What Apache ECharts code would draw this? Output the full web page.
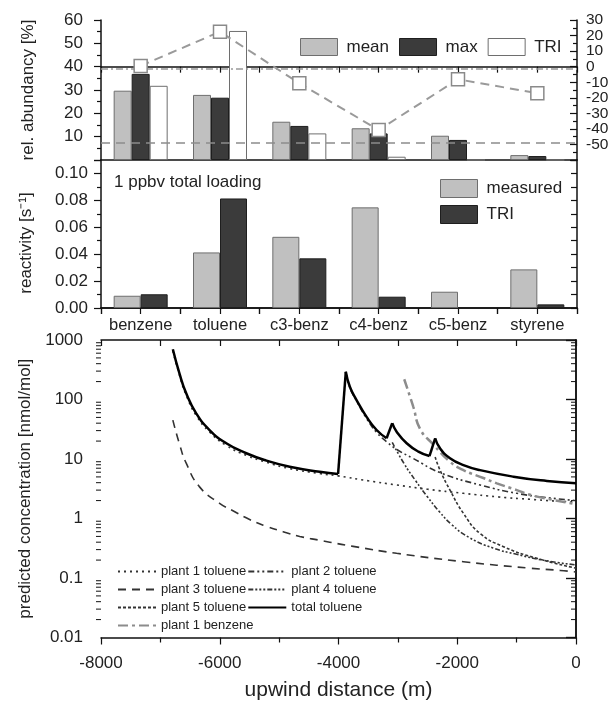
<!DOCTYPE html>
<html><head><meta charset="utf-8">
<script src="https://cdn.jsdelivr.net/npm/echarts@6/dist/echarts.min.js"></script>
<style>html,body{margin:0;padding:0;background:#fff}#c{width:613px;height:706px}</style>
</head><body><div id="c"></div>
<script>
// ---------- data ----------
const categories = ['benzene', 'toluene', 'c3-benz', 'c4-benz', 'c5-benz', 'styrene'];
const abundMean = [29.7, 27.9, 16.4, 13.6, 10.4, 2.1];
const abundMax  = [36.9, 26.7, 14.6, 11.4, 8.6, 1.7];
const abundTRI  = [31.8, 55.3, 11.4, 1.4, 0, 0];
const diffTRI   = [0.5, 22.5, -10.7, -40.7, -8.1, -17.1];
const refLineRight = -1.5;
const refLineLeft = 7.2;
const reactMeasured = [0.0091, 0.0413, 0.0529, 0.0748, 0.0121, 0.0287];
const reactTRI      = [0.0102, 0.0814, 0.0369, 0.0084, 0, 0.0027];

const plant1Toluene = [[-6790,653],[-6679,257],[-6565,118],[-6397,54],[-6172,28.4],[-5890,16.9],[-5553,11.5],[-5215,8.8],[-4822,6.9],[-4316,5.7],[-4007,5.2],[-3500,4.3],[-3021,3.66],[-2500,3.1],[-1896,2.65],[-1300,2.3],[-771,2.1],[-400,1.98],[0,1.9]];
const plant2Toluene = [[-3877,290],[-3809,160],[-3696,95],[-3527,48],[-3358,28],[-3190,19.5],[-3021,14.5],[-2741,10.2],[-2290,5.9],[-1616,3.66],[-998,2.65],[-500,2.25],[0,2.0]];
const plant3Toluene = [[-6790,45],[-6679,18],[-6565,8.5],[-6340,3.4],[-6003,1.8],[-5778,1.35],[-5497,0.96],[-5215,0.74],[-4934,0.6],[-4653,0.5],[-4316,0.43],[-4148,0.4],[-3754,0.34],[-3021,0.26],[-1896,0.188],[-771,0.146],[-265,0.134],[0,0.126]];
const plant4Toluene = [[-3095,19],[-2900,8.5],[-2700,4.3],[-2500,2.3],[-2300,1.3],[-2100,0.8],[-1800,0.48],[-1400,0.32],[-1000,0.25],[-500,0.195],[0,0.166]];
const plant5Toluene = [[-2372,10.8],[-2290,6.5],[-2122,3.0],[-1896,1.22],[-1616,0.56],[-1222,0.336],[-659,0.214],[0,0.146]];
const totalToluene  = [[-6790,698],[-6679,275],[-6565,127],[-6397,58.6],[-6172,30.7],[-5890,18.4],[-5553,12.5],[-5215,9.4],[-4822,7.4],[-4316,6.1],[-4007,5.6],[-3877,293],[-3809,164],[-3696,98],[-3527,51],[-3358,30.7],[-3190,22.3],[-3095,40],[-3021,28.8],[-2852,18.4],[-2655,13.3],[-2468,11.2],[-2372,22.3],[-2290,15.1],[-2122,10.3],[-1896,7.9],[-1616,6.5],[-1053,5.05],[-490,4.27],[0,3.9]];
const plant1Benzene = [[-2893,219],[-2741,76],[-2626,32],[-2403,17.5],[-2122,9.0],[-1896,6.5],[-1560,4.8],[-1333,3.9],[-998,3.0],[-771,2.5],[-435,2.1],[0,1.75]];

// ---------- styling ----------
const FONT = 'Liberation Sans, Arial, sans-serif';
const TXT = '#222';
const AX = '#111';
const axLine = {show: true, lineStyle: {color: AX, width: 1.5}};
const noSplit = {show: false};
const lbl = (o) => Object.assign({color: TXT, fontFamily: FONT, fontSize: 17, hideOverlap: false}, o || {});

const chart = echarts.init(document.getElementById('c'), null, {renderer: 'canvas'});

const lineSeries = (name, data, style, z, smooth) => ({
  name, type: 'line', xAxisIndex: 4, yAxisIndex: 4, data, symbol: 'none', showSymbol: false,
  smooth: smooth === undefined ? 0.5 : smooth, lineStyle: style,
  itemStyle: {color: style.color}, z: z || 2
});

// split the total curve into smooth decays and straight jumps (where the value rises)
const totalStyle = {color: '#000', width: 2.5, type: 'solid'};
const totalSeries = [];
let seg = [totalToluene[0]];
for (let i = 1; i < totalToluene.length; i++) {
  if (totalToluene[i][1] > totalToluene[i - 1][1]) {
    totalSeries.push(lineSeries('total toluene', seg, totalStyle, 4));
    totalSeries.push(lineSeries('total toluene', [totalToluene[i - 1], totalToluene[i]], totalStyle, 4, false));
    seg = [totalToluene[i]];
  } else {
    seg.push(totalToluene[i]);
  }
}
totalSeries.push(lineSeries('total toluene', seg, totalStyle, 4));

const rightLbl = {show: true, margin: 9, hideOverlap: false, fontSize: 15.5, fontFamily: FONT, color: TXT};

const option = {
  animation: false,
  backgroundColor: '#fff',
  textStyle: {fontFamily: FONT},
  title: {text: '1 ppbv total loading', left: 114, top: 174, padding: 0,
    textStyle: {fontSize: 17, fontWeight: 'normal', color: TXT, fontFamily: FONT}},
  grid: [
    {left: 101, top: 20, width: 476, height: 140},
    {left: 101, top: 160, width: 476, height: 148},
    {left: 101, top: 340, width: 475, height: 297.5},
    {left: 101, top: 20, width: 476, height: 140}
  ],
  legend: [
    {data: ['mean', 'max', 'TRI'], left: 295, top: 33, orient: 'horizontal',
     itemWidth: 37, itemHeight: 17, itemGap: 10, icon: 'rect',
     itemStyle: {borderWidth: 1},
     textStyle: {fontSize: 17, color: TXT, fontFamily: FONT, padding: [0, 0, 0, 4]}},
    {data: ['measured', 'TRI2'], left: 435, top: 174, orient: 'vertical',
     itemWidth: 37, itemHeight: 18, itemGap: 7, icon: 'rect',
     itemStyle: {borderWidth: 1},
     formatter: n => n === 'TRI2' ? 'TRI' : n,
     textStyle: {fontSize: 17, color: TXT, fontFamily: FONT, padding: [0, 0, 0, 4]}},
    {data: ['plant 1 toluene', 'plant 2 toluene', 'plant 3 toluene', 'plant 4 toluene', 'plant 5 toluene', 'total toluene', 'plant 1 benzene'],
     left: 112, top: 558, width: 320, orient: 'horizontal', itemWidth: 38, itemHeight: 17, itemGap: 1,
     itemStyle: {color: 'rgba(0,0,0,0)', borderColor: 'rgba(0,0,0,0)', borderWidth: 0},
     textStyle: {fontSize: 13, color: TXT, fontFamily: FONT, lineHeight: 17}}
  ],
  xAxis: [
    {type: 'category', gridIndex: 0, data: categories, position: 'bottom', axisLine: axLine,
     axisTick: {show: false}, axisLabel: {show: false}},
    {type: 'value', gridIndex: 0, position: 'top', min: 0, max: 6, interval: 0.5, axisLine: axLine,
     axisTick: {show: true, inside: true, length: 6, lineStyle: {color: AX, width: 1.2}}, axisLabel: {show: false}, splitLine: noSplit},
    {type: 'category', gridIndex: 1, data: categories, position: 'bottom', axisLine: axLine,
     axisTick: {show: true, length: 6, lineStyle: {color: AX, width: 1.2}}, axisLabel: lbl({margin: 9, interval: 0, fontSize: 16.5})},
    {type: 'value', gridIndex: 1, position: 'top', min: 0, max: 6, interval: 0.5, axisLine: axLine,
     axisTick: {show: true, inside: true, length: 6, lineStyle: {color: AX, width: 1.2}}, axisLabel: {show: false}, splitLine: noSplit},
    {type: 'value', gridIndex: 2, position: 'bottom', min: -8000, max: 0, interval: 2000, axisLine: axLine,
     axisTick: {show: true, length: 7, lineStyle: {color: AX, width: 1.2}},
     minorTick: {show: true, splitNumber: 2, length: 5, lineStyle: {color: AX, width: 1.2}},
     axisLabel: lbl({margin: 17, formatter: v => String(v)}), splitLine: noSplit, minorSplitLine: noSplit,
     name: 'upwind distance (m)', nameLocation: 'middle', nameGap: 42,
     nameTextStyle: {fontSize: 21, color: TXT, fontFamily: FONT}},
    {type: 'value', gridIndex: 2, position: 'top', min: -8000, max: 0, interval: 1000, axisLine: axLine,
     axisTick: {show: true, inside: true, length: 6, lineStyle: {color: AX, width: 1.2}}, axisLabel: {show: false}, splitLine: noSplit},
    {type: 'value', gridIndex: 3, show: false, min: 0, max: 1}
  ],
  yAxis: [
    {type: 'value', gridIndex: 0, position: 'left', min: 0, max: 60, interval: 10, axisLine: axLine,
     axisTick: {show: true, length: 7, lineStyle: {color: AX, width: 1.2}},
     minorTick: {show: true, splitNumber: 2, length: 4, lineStyle: {color: AX, width: 1.2}},
     axisLabel: lbl({margin: 18, formatter: v => v === 0 ? '' : String(v)}), splitLine: noSplit, minorSplitLine: noSplit,
     name: 'rel. abundancy [%]', nameLocation: 'middle', nameGap: 64,
     nameTextStyle: {fontSize: 17, color: TXT, fontFamily: FONT}},
    {type: 'value', gridIndex: 0, position: 'right', min: -60, max: 30, interval: 10, axisLine: axLine,
     axisTick: {show: true, inside: true, length: 7, lineStyle: {color: AX, width: 1.2}},
     minorTick: {show: true, splitNumber: 2, length: 4, lineStyle: {color: AX, width: 1.2}},
     axisLabel: Object.assign({}, rightLbl, {showMaxLabel: false, formatter: v => (v < -55 || v > 25) ? '' : String(v)}),
     splitLine: noSplit, minorSplitLine: noSplit},
    {type: 'value', gridIndex: 1, position: 'left', min: 0, max: 0.11, interval: 0.02, axisLine: axLine,
     axisTick: {show: true, length: 7, lineStyle: {color: AX, width: 1.2}},
     minorTick: {show: true, splitNumber: 2, length: 4, lineStyle: {color: AX, width: 1.2}},
     axisLabel: lbl({margin: 13, formatter: v => v > 0.105 ? '' : v.toFixed(2)}), splitLine: noSplit, minorSplitLine: noSplit,
     name: 'reactivity [s⁻¹]', nameLocation: 'middle', nameGap: 66,
     nameTextStyle: {fontSize: 17, color: TXT, fontFamily: FONT, padding: [0, 0, 0, -18]}},
    {type: 'value', gridIndex: 1, position: 'right', min: 0, max: 0.11, interval: 0.01, axisLine: axLine,
     axisTick: {show: true, inside: true, length: 6, lineStyle: {color: AX, width: 1.2}},
     axisLabel: {show: false}, splitLine: noSplit},
    {type: 'log', logBase: 10, gridIndex: 2, position: 'left', min: 0.01, max: 1000, axisLine: axLine,
     axisTick: {show: true, length: 10, lineStyle: {color: AX, width: 1.2}},
     axisLabel: lbl({margin: 18, formatter: v => { const e = Math.round(Math.log10(v)); return e < 0 ? Math.pow(10, e).toFixed(-e) : String(Math.round(Math.pow(10, e))); }}),
     splitLine: noSplit,
     name: 'predicted concentration [nmol/mol]', nameLocation: 'middle', nameGap: 62,
     nameTextStyle: {fontSize: 17, color: TXT, fontFamily: FONT}},
    {type: 'log', logBase: 10, gridIndex: 2, position: 'right', min: 0.01, max: 1000, axisLine: axLine,
     axisTick: {show: true, inside: true, length: 10, lineStyle: {color: AX, width: 1.2}},
     axisLabel: {show: false}, splitLine: noSplit},
    // label-only twin of the right axis of the top panel, carrying its top label
    {type: 'value', gridIndex: 3, position: 'right', min: -60, max: 30, interval: 10,
     axisLine: {show: false}, axisTick: {show: false},
     axisLabel: Object.assign({}, rightLbl, {showMaxLabel: true, formatter: v => v > 25 ? String(v) : ''}),
     splitLine: noSplit}
  ],
  series: [
    {name: 'mean', type: 'bar', xAxisIndex: 0, yAxisIndex: 0, data: abundMean, barWidth: 18, barGap: '0%',
     itemStyle: {color: '#c0c0c0', borderColor: '#6e6e6e', borderWidth: 1},
     markLine: {silent: true, symbol: 'none', label: {show: false}, z: 6,
       lineStyle: {color: '#8c8c8c', type: [9, 6], width: 1.6}, data: [{yAxis: refLineLeft}]}},
    {name: 'max', type: 'bar', xAxisIndex: 0, yAxisIndex: 0, data: abundMax, barWidth: 18, barGap: '0%',
     itemStyle: {color: '#3b3b3b', borderColor: '#1e1e1e', borderWidth: 1}},
    {name: 'TRI', type: 'bar', xAxisIndex: 0, yAxisIndex: 0, data: abundTRI, barWidth: 18, barGap: '0%',
     itemStyle: {color: '#ffffff', borderColor: '#6e6e6e', borderWidth: 1}},
    {name: 'diff', type: 'line', xAxisIndex: 0, yAxisIndex: 1, data: diffTRI, symbol: 'rect', symbolSize: 13, z: 5,
     itemStyle: {color: '#ffffff', borderColor: '#8a8a8a', borderWidth: 1.5},
     lineStyle: {color: '#9a9a9a', type: [9, 6], width: 2},
     markLine: {silent: true, symbol: 'none', label: {show: false},
       lineStyle: {color: '#999', type: [7, 3, 2, 3], width: 1.5}, data: [{yAxis: refLineRight}]}},
    {name: 'measured', type: 'bar', xAxisIndex: 2, yAxisIndex: 2, data: reactMeasured, barWidth: 27, barGap: '0%',
     itemStyle: {color: '#c0c0c0', borderColor: '#6e6e6e', borderWidth: 1}},
    {name: 'TRI2', type: 'bar', xAxisIndex: 2, yAxisIndex: 2, data: reactTRI, barWidth: 27, barGap: '0%',
     itemStyle: {color: '#3b3b3b', borderColor: '#1e1e1e', borderWidth: 1}},
    lineSeries('plant 1 toluene', plant1Toluene, {color: '#333', width: 1.6, type: [2, 4]}),
    lineSeries('plant 2 toluene', plant2Toluene, {color: '#333', width: 1.6, type: [6, 3, 2, 3, 2, 3]}),
    lineSeries('plant 3 toluene', plant3Toluene, {color: '#333', width: 1.6, type: [8, 6]}),
    lineSeries('plant 4 toluene', plant4Toluene, {color: '#333', width: 1.6, type: [5, 2, 2, 2, 2, 2, 2, 2]}),
    lineSeries('plant 5 toluene', plant5Toluene, {color: '#333', width: 1.6, type: [3, 2]}),
    ...totalSeries,
    lineSeries('plant 1 benzene', plant1Benzene, {color: '#8c8c8c', width: 2.5, type: [10, 4, 3, 4]}, 3)
  ]
};
chart.setOption(option);

// log-axis minor ticks (2..9 within each decade), positioned by the axis scale
const els = [];
const xl = chart.convertToPixel({xAxisIndex: 4}, -8000);
const xr = chart.convertToPixel({xAxisIndex: 4}, 0);
for (let d = -2; d < 3; d++) {
  for (let k = 2; k <= 9; k++) {
    const y = chart.convertToPixel({yAxisIndex: 4}, k * Math.pow(10, d));
    els.push({type: 'line', silent: true, shape: {x1: xl - 5, y1: y, x2: xl, y2: y}, style: {stroke: AX, lineWidth: 1}});
    els.push({type: 'line', silent: true, shape: {x1: xr, y1: y, x2: xr - 5, y2: y}, style: {stroke: AX, lineWidth: 1}});
  }
}
chart.setOption({graphic: els});
</script>
</body></html>
